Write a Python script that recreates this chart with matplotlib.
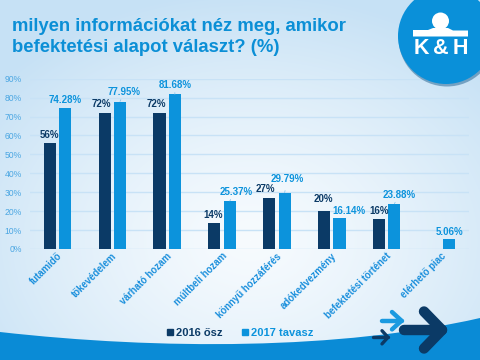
import numpy as np
import matplotlib
matplotlib.use("Agg")
import matplotlib.pyplot as plt
from matplotlib.patches import Circle, Polygon, PathPatch
from matplotlib.path import Path
from matplotlib.lines import Line2D
from matplotlib.transforms import ScaledTranslation

plt.rcParams['font.family'] = ['Liberation Sans', 'DejaVu Sans']

# ---------------- data ----------------
categories = ["futamidő", "tőkevédelem", "várható hozam", "múltbeli hozam",
              "könnyű hozzáférés", "adókedvezmény", "befektetési történet", "elérhető piac"]
series_names = ["2016 ősz", "2017 tavasz"]
values_2016 = [56, 72, 72, 14, 27, 20, 16, np.nan]
values_2017 = [74.28, 77.95, 81.68, 25.37, 29.79, 16.14, 23.88, 5.06]
labels_2016 = ["56%", "72%", "72%", "14%", "27%", "20%", "16%", ""]
labels_2017 = ["74.28%", "77.95%", "81.68%", "25.37%", "29.79%", "16.14%", "23.88%", "5.06%"]
y_ticks = [0, 10, 20, 30, 40, 50, 60, 70, 80, 90]
title_lines = ["milyen információkat néz meg, amikor", "befektetési alapot választ? (%)"]
logo_letters = ["K", "&", "H"]

# ---------------- style ----------------
DARK = "#0b3a66"
LIGHT = "#0c93dc"
TITLE_C = "#0b8fd6"
TICK_C = "#4aa6e2"
XLAB_C = "#1a8fdc"
GRID_C = "#c8e2f6"
off_2016 = [(0, 8), (-3, 8.7), (-3, 8.7), (-1, 8), (-4, 8.7), (-1, 11.7), (0, 7.3), (0, 0)]
off_2017 = [(0, 8), (4.5, 9.7), (0, 9.6), (6, 9.3), (3, 14), (9, 7.3), (5, 9.3), (0, 7.6)]
lead_2017 = [False, True, True, True, True, False, True, False]

W, H = 480, 360
fig = plt.figure(figsize=(4.8, 3.6), dpi=100)

# background gradient
bg = fig.add_axes([0, 0, 1, 1], zorder=0)
bg.set_xlim(0, W); bg.set_ylim(H, 0); bg.axis("off")
yy, xx = np.mgrid[0:H, 0:W]
d = np.sqrt(((xx - 250) / 330.0) ** 2 + ((yy - 240) / 250.0) ** 2)
d = np.clip(d, 0, 1) ** 1.3
c_in = np.array([0xf7, 0xfb, 0xfe]) / 255.0
c_out = np.array([0xc6, 0xe1, 0xf5]) / 255.0
img = c_in[None, None, :] * (1 - d[..., None]) + c_out[None, None, :] * d[..., None]
bg.imshow(img, extent=[0, W, H, 0], aspect="auto", interpolation="bilinear")
wave = Path([(0, 332), (160, 350), (340, 350), (480, 318), (480, 360), (0, 360), (0, 332)],
            [Path.MOVETO, Path.CURVE4, Path.CURVE4, Path.CURVE4, Path.LINETO, Path.LINETO, Path.CLOSEPOLY])
bg.add_patch(PathPatch(wave, facecolor="#0a8bd6", edgecolor="none"))

# main chart
ax = fig.add_axes([30 / W, 111 / H, 439 / W, 170.3 / H], zorder=1)
ax.patch.set_alpha(0)
x = np.arange(len(categories))
bw = 0.22
ax.bar(x - 0.14, values_2016, bw, color=DARK, zorder=3)
ax.bar(x + 0.14, values_2017, bw, color=LIGHT, zorder=3)
ax.set_xlim(-0.5, len(categories) - 0.5)
ax.set_ylim(0, 90)
ax.set_yticks(y_ticks)
ax.set_yticklabels([f"{v}%" for v in y_ticks], fontsize=6.2, color=TICK_C)
ax.yaxis.grid(True, color=GRID_C, lw=1, zorder=0)
ax.set_axisbelow(True)
for s in ax.spines.values():
    s.set_visible(False)
ax.tick_params(axis="both", length=0)
ax.tick_params(axis="y", pad=6)
ax.set_xticks(x)
ax.set_xticklabels(categories, rotation=45, ha="right", va="center", rotation_mode="anchor",
                   fontsize=6.9, fontweight="bold", color=XLAB_C)
ax.tick_params(axis="x", pad=4)
shift = ScaledTranslation(3 / 100, 0, fig.dpi_scale_trans)
for lab in ax.get_xticklabels():
    lab.set_transform(lab.get_transform() + shift)

for i in range(len(categories)):
    if labels_2016[i]:
        ax.annotate(labels_2016[i], (x[i] - 0.14, values_2016[i]), xytext=off_2016[i],
                    textcoords="offset pixels", ha="center", va="center",
                    fontsize=7, fontweight="bold", color=DARK, zorder=5)
    ap = dict(arrowstyle="-", color="#7cc0ea", lw=0.5, shrinkA=3, shrinkB=0) if lead_2017[i] else None
    ax.annotate(labels_2017[i], (x[i] + 0.14, values_2017[i]), xytext=off_2017[i],
                textcoords="offset pixels", ha="center", va="center",
                fontsize=7, fontweight="bold", color=LIGHT, zorder=5, arrowprops=ap)

# title
fig.text(12 / W, 1 - 31 / H, title_lines[0], fontsize=13.3, fontweight="bold", color=TITLE_C, va="baseline")
fig.text(12 / W, 1 - 51.7 / H, title_lines[1], fontsize=13.3, fontweight="bold", color=TITLE_C, va="baseline")

# legend
handles = [Line2D([], [], marker="s", ls="none", ms=4, color=DARK),
           Line2D([], [], marker="s", ls="none", ms=4, color=LIGHT)]
leg = fig.legend(handles, series_names, loc="center", bbox_to_anchor=(240 / W, 1 - 333 / H), ncol=2,
                 frameon=False, handlelength=0.6, handletextpad=0.2, columnspacing=1.8,
                 prop=dict(size=8, weight="bold"))
for t, c in zip(leg.get_texts(), [DARK, LIGHT]):
    t.set_color(c)

# overlay: logo & arrows
ov = fig.add_axes([0, 0, 1, 1], zorder=3)
ov.set_xlim(0, W); ov.set_ylim(H, 0); ov.axis("off"); ov.patch.set_alpha(0)
ov.add_patch(Circle((447, 38), 48.5, color="#1d5f8f", alpha=0.5, lw=0))
ov.add_patch(Circle((446, 36), 48, color="#0a90d9", lw=0))
ov.add_patch(Circle((440.5, 21), 8.5, color="white", lw=0))
ov.add_patch(Polygon([(413, 30), (428, 30), (433, 28), (448, 28), (453, 30.5), (468, 30.5),
                      (468, 36.5), (413, 36.5)], closed=True, color="white", lw=0))
for lx, ch in zip([421, 440.5, 460], logo_letters):
    ov.text(lx, 48.2, ch, fontsize=15.5, fontweight="bold", color="white", ha="center", va="center")

def arrow(x0, x1, y, ax_x, arm, lw, col):
    ov.plot([x0, x1], [y, y], color=col, lw=lw, solid_capstyle="round")
    ov.plot([ax_x, x1, ax_x], [y - arm, y, y + arm], color=col, lw=lw,
            solid_capstyle="round", solid_joinstyle="round")

arrow(382, 401.5, 320.7, 392, 8.7, 3.2, "#1a9ae0")
arrow(373, 388, 337.3, 382, 6.6, 2.4, DARK)
arrow(404, 442, 330, 424, 18.5, 7.5, DARK)

fig.savefig("out.png", dpi=100)
